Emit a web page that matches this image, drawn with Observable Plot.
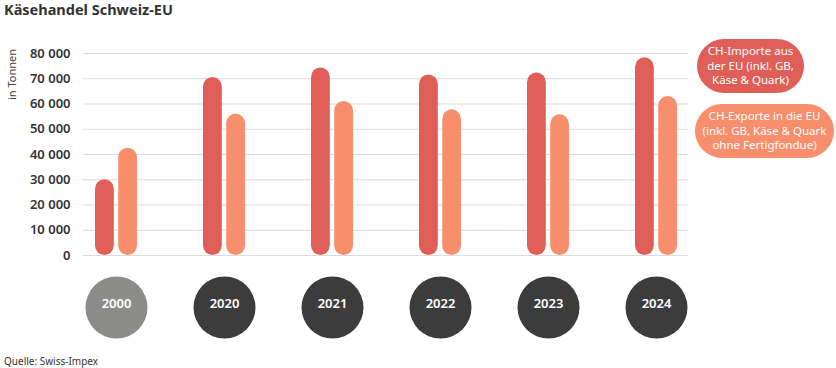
<!DOCTYPE html>
<html>
<head>
<meta charset="utf-8">
<script src="https://cdn.jsdelivr.net/npm/d3@7"></script>
<script src="https://cdn.jsdelivr.net/npm/@observablehq/plot@0.6"></script>
<style>
  html, body { margin: 0; padding: 0; background: #fff; }
  body { font-family: "Noto Sans", sans-serif; }
  #wrap { position: relative; width: 836px; height: 368px; overflow: hidden; }
  #chart { position: absolute; left: 0; top: 0; }
  .title { position: absolute; left: 4px; top: -1px; font-size: 14.5px; font-weight: 700; color: #333; white-space: nowrap; }
  .source { position: absolute; left: 4px; top: 354px; font-size: 10px; color: #333; white-space: nowrap; }
  .pill { position: absolute; display: flex; align-items: center; justify-content: center; text-align: center;
          color: #fff; font-size: 11.5px; line-height: 14.5px; white-space: pre; }
</style>
</head>
<body>
<div id="wrap"></div>
<script>
const years = ["2000", "2020", "2021", "2022", "2023", "2024"];
const imports = [30000, 70500, 74300, 71500, 72300, 78300];
const exports = [42500, 56000, 61000, 57700, 55700, 63000];
const yTicks = [0, 10000, 20000, 30000, 40000, 50000, 60000, 70000, 80000];
const seriesNames = ["CH-Importe aus\nder EU (inkl. GB,\nKäse & Quark)", "CH-Exporte in die EU\n(inkl. GB, Käse & Quark\nohne Fertigfondue)"];
const seriesColors = ["#df5f58", "#f98e6c"];
const yLabel = "in Tonnen";
const titleText = "Käsehandel Schweiz-EU";
const sourceText = "Quelle: Swiss-Impex";

const rows = years.map((y, i) => ({year: y, imp: imports[i], exp: exports[i]}));
const fmt = d3.formatLocale({decimal: ",", thousands: " ", grouping: [3], currency: ["", ""]}).format(",d");

const barW = 19.5;
const inset = (108.7 - barW) / 2;

const chart = Plot.plot({
  width: 836,
  height: 368,
  marginLeft: 83,
  marginRight: 148,
  marginTop: 53,
  marginBottom: 113,
  style: {fontFamily: "Noto Sans, sans-serif", background: "transparent", overflow: "visible"},
  x: {type: "band", domain: years, range: [60.25, 712.35], padding: 0, axis: null},
  y: {domain: [0, 80000], axis: null},
  marks: [
    Plot.ruleY(yTicks, {stroke: "#dcdcdc", strokeWidth: 1.2}),
    Plot.axisY(yTicks, {tickSize: 0, tickPadding: 13, tickFormat: fmt, fontSize: 13, fontWeight: 600, fill: "#333", label: null}),
    Plot.text([yLabel], {frameAnchor: "top-left", rotate: -90, dx: -75, dy: 21, textAnchor: "middle", fontSize: 11, fill: "#444"}),
    Plot.barY(rows, {x: "year", y: "imp", fill: seriesColors[0], dx: -11.6, insetLeft: inset, insetRight: inset, rx: barW / 2}),
    Plot.barY(rows, {x: "year", y: "exp", fill: seriesColors[1], dx: 11.6, insetLeft: inset, insetRight: inset, rx: barW / 2}),
    Plot.dot(years.filter(y => y === "2000"), {x: d => d, frameAnchor: "bottom", dy: 52, r: 31, fill: "#8c8c8a"}),
    Plot.dot(years.filter(y => y !== "2000"), {x: d => d, frameAnchor: "bottom", dy: 52, r: 31, fill: "#3c3c3d"}),
    Plot.text(years, {x: d => d, frameAnchor: "bottom", dy: 52, text: d => d, fill: "#fff", fontSize: 13, fontWeight: 600})
  ]
});
chart.id = "chart";
const wrap = document.getElementById("wrap");
wrap.appendChild(chart);

const t = document.createElement("div");
t.className = "title"; t.textContent = titleText; wrap.appendChild(t);
const s = document.createElement("div");
s.className = "source"; s.textContent = sourceText; wrap.appendChild(s);

const pillBoxes = [
  {left: 697, top: 39, width: 107, height: 54},
  {left: 695, top: 104, width: 139, height: 54}
];
seriesNames.forEach((name, i) => {
  const p = document.createElement("div");
  p.className = "pill";
  const b = pillBoxes[i];
  Object.assign(p.style, {left: b.left + "px", top: b.top + "px", width: b.width + "px", height: b.height + "px",
    borderRadius: (b.height / 2) + "px", background: seriesColors[i]});
  p.textContent = name;
  wrap.appendChild(p);
});
</script>
</body>
</html>
